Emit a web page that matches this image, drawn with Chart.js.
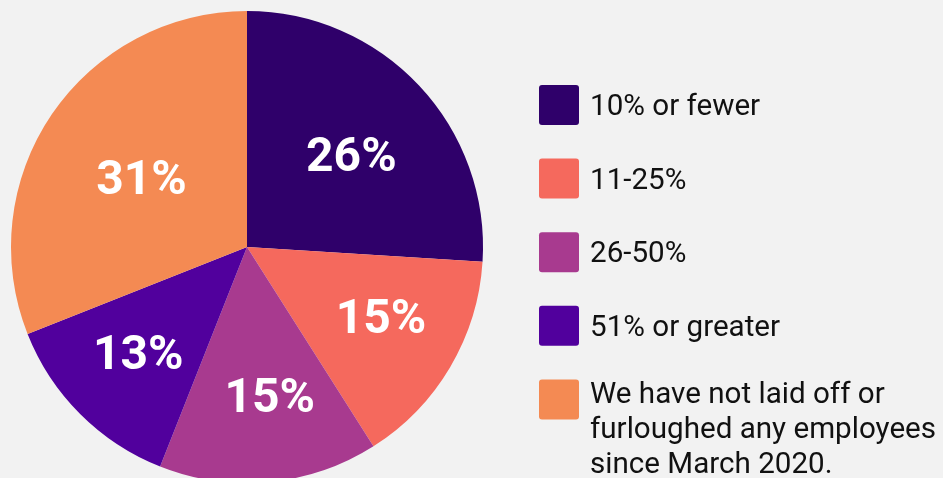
<!DOCTYPE html>
<html><head><meta charset="utf-8">
<script src="https://cdn.jsdelivr.net/npm/chart.js@4/dist/chart.umd.min.js"></script>
<style>
html,body{margin:0;padding:0;background:#f2f2f2;overflow:hidden}
#wrap{position:relative;width:943px;height:478px;overflow:hidden;background:#f2f2f2}
canvas{display:block}
</style></head><body>
<div id="wrap"><canvas id="c" width="943" height="490"></canvas></div>
<script>
const categories = ["10% or fewer", "11-25%", "26-50%", "51% or greater", "We have not laid off or furloughed any employees since March 2020."];
const shares = [26, 15, 15, 13, 31];
const sliceColors = ["#2f006a", "#f5695d", "#a83a8f", "#51009d", "#f48a53"];

const labelPlugin = {
  id: 'sliceLabels',
  afterDatasetsDraw(chart, args, opts) {
    const ctx = chart.ctx;
    const meta = chart.getDatasetMeta(0);
    ctx.save();
    ctx.fillStyle = '#ffffff';
    ctx.font = 'bold 48px Roboto';
    ctx.textAlign = 'center';
    ctx.textBaseline = 'middle';
    meta.data.forEach((arc, i) => {
      const p = arc.getProps(['x','y','startAngle','endAngle','outerRadius'], true);
      const mid = (p.startAngle + p.endAngle) / 2 + (opts.angleShift[i] || 0);
      const r = p.outerRadius * opts.radial[i];
      const x = p.x + Math.cos(mid) * r;
      const y = p.y + Math.sin(mid) * r;
      ctx.fillText(chart.data.datasets[0].data[i] + '%', x, y + 2);
    });
    ctx.restore();
  }
};

const legendPlugin = {
  id: 'sideLegend',
  afterDraw(chart, args, opts) {
    const ctx = chart.ctx;
    const labels = chart.data.labels;
    const cols = chart.data.datasets[0].backgroundColor;
    ctx.save();
    ctx.font = opts.fontSize + 'px Roboto';
    ctx.textBaseline = 'alphabetic';
    ctx.textAlign = 'left';
    labels.forEach((lab, i) => {
      const top = opts.top + i * opts.step;
      ctx.fillStyle = cols[i];
      ctx.beginPath();
      ctx.roundRect(opts.boxX, top, opts.box, opts.box, 3);
      ctx.fill();
      const words = lab.split(' ');
      const lines = [];
      let cur = '';
      words.forEach(w => {
        const t = cur ? cur + ' ' + w : w;
        if (ctx.measureText(t).width > opts.maxWidth && cur) { lines.push(cur); cur = w; }
        else cur = t;
      });
      if (cur) lines.push(cur);
      ctx.fillStyle = '#111111';
      let base = top + opts.box / 2 + 10;
      if (lines.length > 1) base = top + 24;
      lines.forEach((ln, k) => ctx.fillText(ln, opts.textX, base + k * opts.lineHeight));
    });
    ctx.restore();
  }
};

new Chart(document.getElementById('c'), {
  type: 'pie',
  data: {
    labels: categories,
    datasets: [{ data: shares, backgroundColor: sliceColors, borderWidth: 0, hoverOffset: 0 }]
  },
  options: {
    responsive: false,
    animation: false,
    layout: { padding: { left: 11, top: 11, right: 460, bottom: 7 } },
    plugins: {
      legend: { display: false },
      tooltip: { enabled: false },
      sliceLabels: { radial: [0.585, 0.645, 0.648, 0.648, 0.53], angleShift: [0.04, -0.04, -0.055, 0.005, -0.03] },
      sideLegend: { boxX: 539, box: 40, top: 85, step: 73.6, textX: 590, fontSize: 29.6, lineHeight: 35, maxWidth: 360 }
    }
  },
  plugins: [labelPlugin, legendPlugin]
});
</script>
</body></html>
